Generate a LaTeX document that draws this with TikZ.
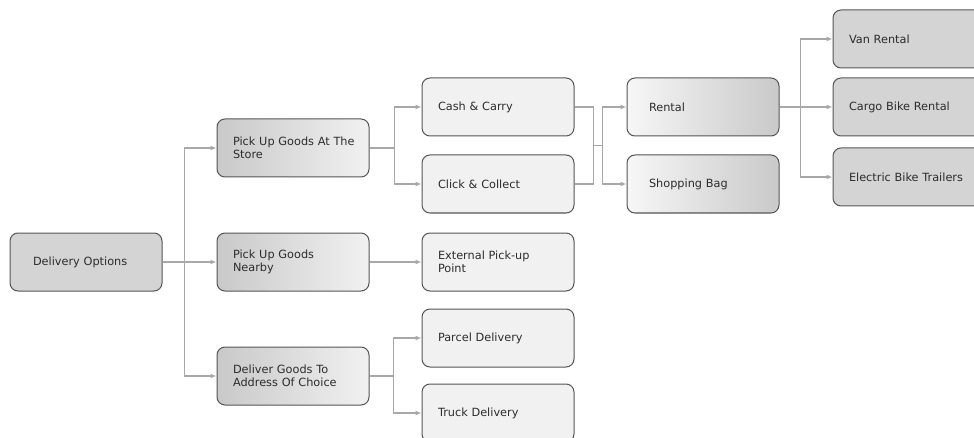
\documentclass[tikz,border=0pt]{standalone}
\usepackage{fontspec}
\setmainfont{DejaVu Sans}
\usepackage{xcolor}
\usepackage{tikz}
\usetikzlibrary{arrows.meta,positioning,calc}
\definecolor{rim}{HTML}{555555}
\definecolor{ink}{HTML}{2C2C2C}
\definecolor{wire}{HTML}{A8A8A8}
\definecolor{grayD}{HTML}{D4D4D4}
\definecolor{grayL}{HTML}{F1F1F1}
\definecolor{grayS}{HTML}{C9C9C9}
\tikzset{
  box/.style={rectangle, rounded corners=8pt, draw=rim, line width=1pt,
              minimum height=58pt, text width=120pt, inner xsep=16pt,
              align=left, text=ink, font=\fontsize{11.3}{13}\selectfont},
  root/.style={box, fill=grayD, text width=106pt, inner xsep=23pt},
  stage/.style={box, left color=grayS, right color=grayL, text width=126pt, inner xsep=13pt},
  leaf/.style={box, fill=grayL},
  carry/.style={box, left color=grayL!60!white, right color=grayS, text width=108pt, inner xsep=22pt},
  fleet/.style={box, fill=grayD, text width=134pt},
  link/.style={draw=wire, line width=1.4pt},
  conn/.style={link, -{Latex[length=6pt,width=5pt]}}
}
\begin{document}
\begin{tikzpicture}
\clip (0,0) rectangle (974pt,437pt);
\node[root] (del) at (86pt,175pt) {Delivery Options};
\node[stage, right=54pt of del] (near) {\hspace*{3pt}Pick Up Goods\\\hspace*{3pt}Nearby};
\node[stage, above=55pt of near] (store) {\hspace*{3pt}Pick Up Goods At The\\\hspace*{3pt}Store};
\node[stage, below=55pt of near] (addr) {\hspace*{3pt}Deliver Goods To\\\hspace*{3pt}Address Of Choice};
\node[leaf, right=52pt of near] (ext) {External Pick-up\\Point};
\node[leaf, right=52pt of store, yshift=41pt] (cash) {Cash \& Carry};
\node[leaf, below=18pt of cash] (click) {Click \& Collect};
\node[leaf, right=52pt of addr, yshift=38pt] (parcel) {Parcel Delivery};
\node[leaf, below=16pt of parcel] (truck) {Truck Delivery};
\node[carry, right=52pt of cash] (rent) {Rental};
\node[carry, below=18pt of rent] (bag) {Shopping Bag};
\node[fleet, right=53pt of rent] (cargo) {Cargo Bike Rental};
\node[fleet, above=9pt of cargo] (van) {Van Rental};
\node[fleet, below=11pt of cargo] (trail) {Electric Bike Trailers};
% forks
\coordinate (j1) at ($(del.east)+(22pt,0)$);
\draw[conn] (del.east) -- (near.west);
\draw[conn] (j1) |- (store.west);
\draw[conn] (j1) |- (addr.west);
\coordinate (j2) at ($(store.east)+(25pt,0)$);
\draw[link] (store.east) -- (j2);
\draw[conn] (j2) |- (cash.west);
\draw[conn] (j2) |- (click.west);
\draw[conn] (near.east) -- (ext.west);
\coordinate (j3) at ($(addr.east)+(24pt,0)$);
\draw[link] (addr.east) -- (j3);
\draw[conn] (j3) |- (parcel.west);
\draw[conn] (j3) |- (truck.west);
% merge into rental / bag
\coordinate (j4) at ($(cash.east)!0.5!(click.east)+(19pt,0)$);
\draw[link] (cash.east) -| (j4);
\draw[link] (click.east) -| (j4);
\draw[link] (j4) -- ++(9pt,0) coordinate (j5);
\draw[conn] (j5) |- (rent.west);
\draw[conn] (j5) |- (bag.west);
\coordinate (j6) at ($(rent.east)+(21pt,0)$);
\draw[conn] (rent.east) -- (cargo.west);
\draw[conn] (j6) |- (van.west);
\draw[conn] (j6) |- (trail.west);
\end{tikzpicture}
\end{document}
